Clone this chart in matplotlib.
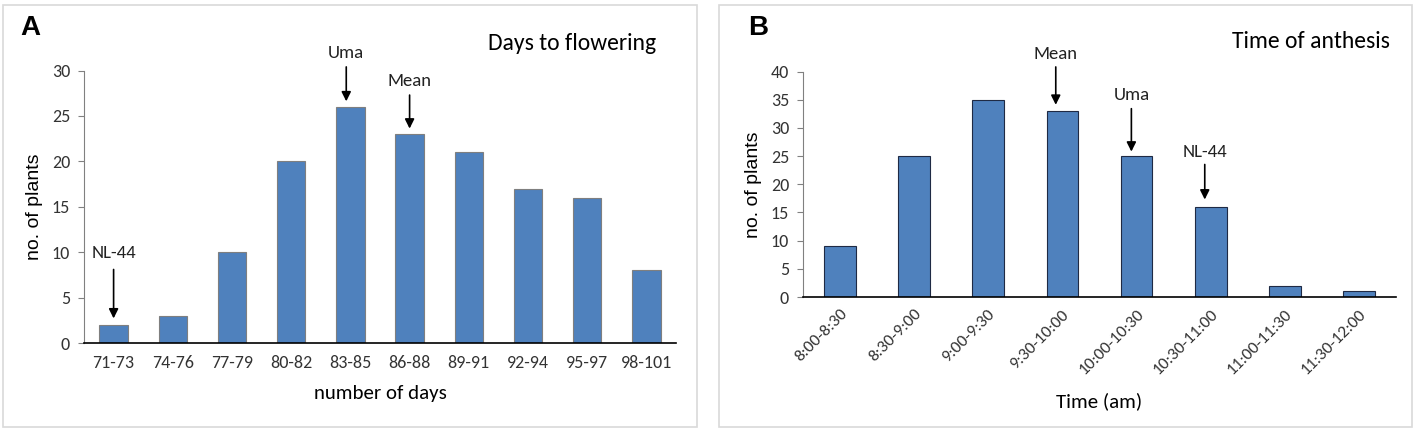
import matplotlib.pyplot as plt
from matplotlib.patches import Rectangle

# Panel A: days to flowering
days_bins = ['71-73', '74-76', '77-79', '80-82', '83-85', '86-88',
             '89-91', '92-94', '95-97', '98-101']
days_counts = [2, 3, 10, 20, 26, 23, 21, 17, 16, 8]

# Panel B: time of anthesis
time_bins = ['8:00-8:30', '8:30-9:00', '9:00-9:30', '9:30-10:00',
             '10:00-10:30', '10:30-11:00', '11:00-11:30', '11:30-12:00']
time_counts = [9, 25, 35, 33, 25, 16, 2, 1]

# annotations: (label, x index, text y, arrow start y, arrow tip y)
days_notes = [('NL-44', 0, 9.9, 8.4, 2.4),
              ('Uma', 3.93, 31.9, 30.7, 26.3),
              ('Mean', 5.0, 28.8, 27.6, 23.3)]
time_notes = [('Mean', 2.91, 43.1, 41.3, 33.6),
              ('Uma', 3.93, 35.8, 33.9, 25.3),
              ('NL-44', 4.92, 25.7, 24.0, 16.8)]

BLUE = '#4F81BD'
FONT = ['Carlito', 'Lato', 'DejaVu Sans']

fig = plt.figure(figsize=(14.17, 4.33), dpi=100)

# light gray panel frames
for x0, w in [(3 / 1417, 694 / 1417), (719 / 1417, 693 / 1417)]:
    fig.add_artist(Rectangle((x0, 1 - 427 / 433), w, 422 / 433,
                             transform=fig.transFigure, fill=False,
                             edgecolor='#d9d9d9', linewidth=1.2))


def draw_panel(ax, cats, vals, width, edge, ymax, notes):
    ax.bar(range(len(cats)), vals, width=width, color=BLUE,
           edgecolor=edge, linewidth=0.8, zorder=2)
    ax.set_xlim(-0.5, len(cats) - 0.5)
    ax.set_ylim(0, ymax)
    ax.set_yticks(range(0, ymax + 1, 5))
    for s in ['top', 'right']:
        ax.spines[s].set_visible(False)
    ax.spines['left'].set_color('#808080')
    ax.spines['bottom'].set_color('black')
    ax.spines['bottom'].set_linewidth(1.2)
    ax.tick_params(axis='y', direction='out', length=4, color='#808080',
                   labelsize=13, pad=6)
    ax.tick_params(axis='x', length=0, labelsize=12.5)
    for lab in ax.get_yticklabels() + ax.get_xticklabels():
        lab.set_family(FONT)
        lab.set_color('#333333')
    for text, xi, ty, y0, y1 in notes:
        ax.annotate('', xy=(xi, y1), xytext=(xi, y0),
                    arrowprops=dict(arrowstyle='-|>', color='black',
                                    lw=1.2, mutation_scale=14))
        ax.text(xi, ty, text, ha='center', va='center', fontsize=13.5,
                family=FONT, color='#222222')


axA = fig.add_axes([84 / 1417, 1 - 343 / 433, 592 / 1417, 272.5 / 433])
draw_panel(axA, days_bins, days_counts, 0.48, '#7f7f7f', 30, days_notes)
axA.set_xticks(range(len(days_bins)))
axA.set_xticklabels(days_bins, family=FONT, color='#333333', fontsize=13)
axA.tick_params(axis='x', pad=9)
axA.set_xlabel('number of days', family=FONT, fontsize=15, labelpad=10)
axA.set_ylabel('no. of plants', family='Liberation Sans', fontsize=14,
               labelpad=6)

axB = fig.add_axes([803 / 1417, 1 - 297 / 433, 593 / 1417, 225.5 / 433])
draw_panel(axB, time_bins, time_counts, 0.43, '#1f2a44', 40, time_notes)
axB.set_xticks(range(len(time_bins)))
axB.set_xticklabels(time_bins, rotation=45, ha='right',
                    rotation_mode='anchor', family=FONT, color='#333333',
                    fontsize=12.5)
axB.tick_params(axis='x', pad=7)
axB.set_xlabel('Time (am)', family=FONT, fontsize=15, labelpad=11)
axB.set_ylabel('no. of plants', family='Liberation Sans', fontsize=14,
               labelpad=6)

fig.text(20 / 1417, 1 - 28 / 433, 'A', fontsize=20, fontweight='bold',
         family='Liberation Sans', va='center', ha='left')
fig.text(748 / 1417, 1 - 28 / 433, 'B', fontsize=20, fontweight='bold',
         family='Liberation Sans', va='center', ha='left')
fig.text(656 / 1417, 1 - 44 / 433, 'Days to flowering', fontsize=17,
         family=FONT, ha='right', va='center')
fig.text(1390 / 1417, 1 - 42 / 433, 'Time of anthesis', fontsize=17,
         family=FONT, ha='right', va='center')

fig.savefig('out.png', dpi=100)
